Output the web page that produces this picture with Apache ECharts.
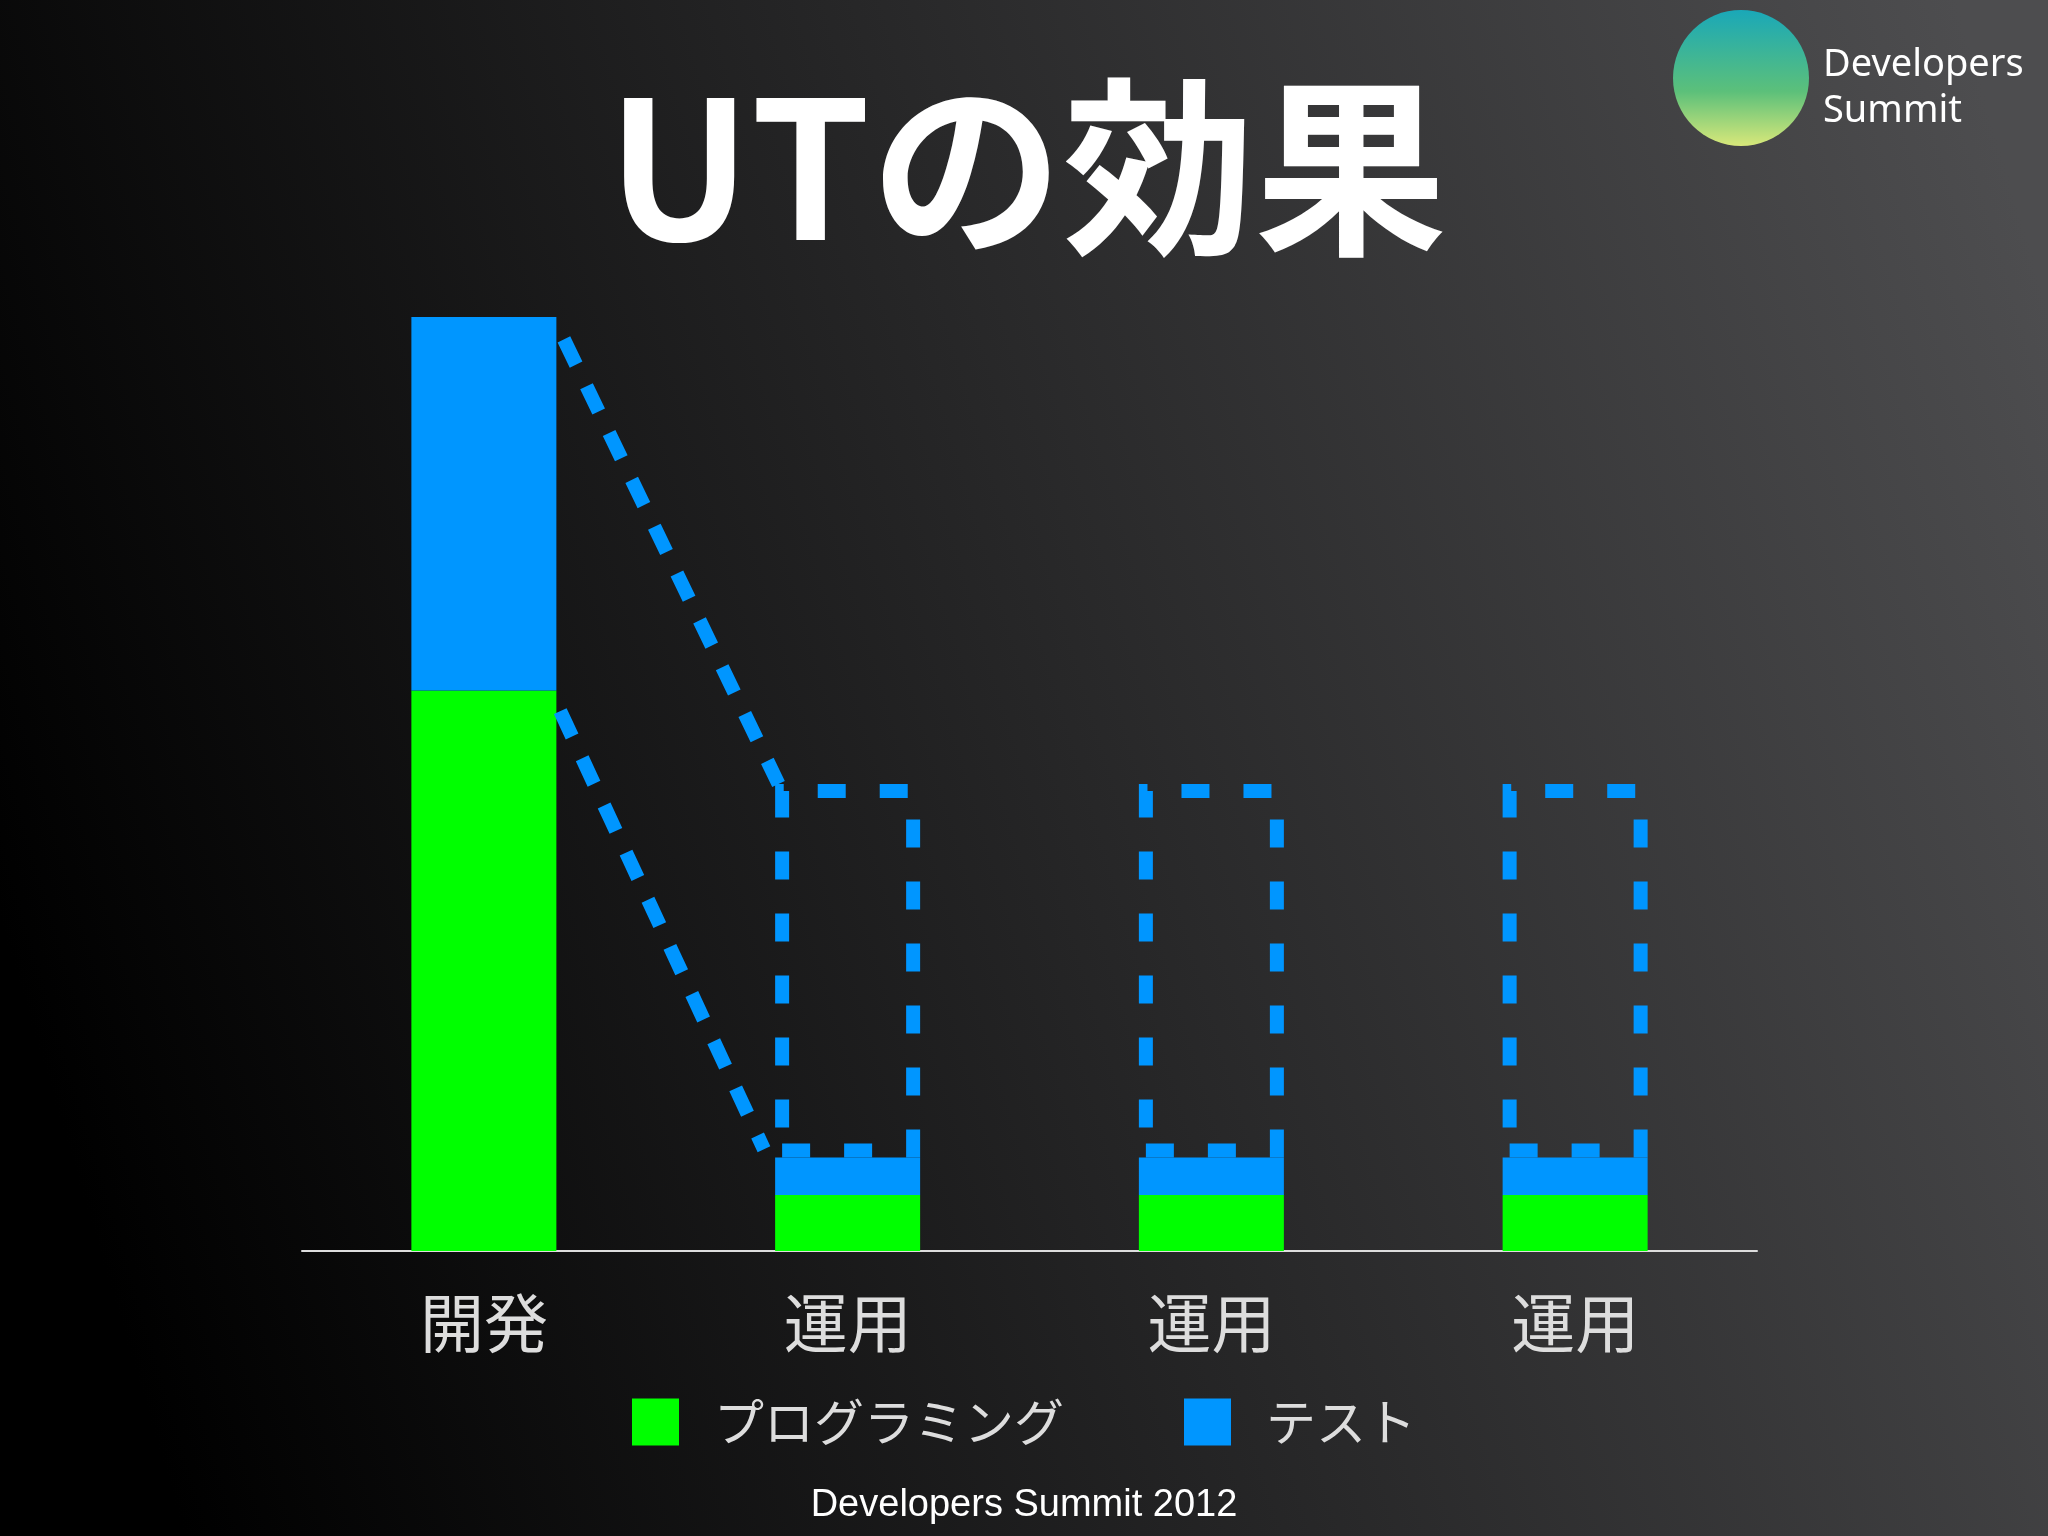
<!DOCTYPE html>
<html>
<head>
<meta charset="utf-8">
<script src="https://cdn.jsdelivr.net/npm/echarts@6/dist/echarts.min.js"></script>
<style>html,body{margin:0;padding:0;}#main{width:2048px;height:1536px;}</style>
</head>
<body>
<div id="main"></div>
<script>
// データ
var categories = ['開発', '運用', '運用', '運用'];
var programming = [60, 6, 6, 6];
var test = [40, 4, 4, 4];
var dashedBox = ['-', 40, 40, 40];
// 点線（x: カテゴリ位置, y: 値）
var guideTop = [[0.22, 97.6], [0.81, 50]];
var guideBottom = [[0.21, 57.8], [0.77, 10.9]];

var myChart = echarts.init(document.getElementById('main'));
var option = {
    backgroundColor: {
        type: 'linear', x: 0, y: 0.6, x2: 1, y2: 0.2,
        colorStops: [{offset: 0, color: '#000000'}, {offset: 1, color: '#4d4d4f'}]
    },
    title: {
        text: 'UTの効果',
        left: 1022, top: 66, textAlign: 'center',
        textStyle: {color: '#fff', fontSize: 192, fontWeight: 'bold', fontFamily: 'Noto Sans CJK JP'}
    },
    graphic: [
        {type: 'circle', shape: {cx: 1741, cy: 78, r: 68},
         style: {fill: {type: 'linear', x: 0, y: 0, x2: 0, y2: 1,
            colorStops: [{offset: 0, color: '#1aa8b8'}, {offset: 0.6, color: '#5cc07a'}, {offset: 1, color: '#d8e87a'}]}}},
        {type: 'text', left: 1823, top: 42,
         style: {text: 'Developers\nSummit', fill: '#fff', fontSize: 38, lineHeight: 46, fontFamily: 'Noto Sans'}},
        {type: 'text', left: 'center', top: 1487,
         style: {text: 'Developers Summit 2012', fill: '#fff', fontSize: 38, fontFamily: 'Liberation Sans'}}
    ],
    legend: {
        data: ['プログラミング', 'テスト'],
        top: 1392, left: 'center',
        itemWidth: 47, itemHeight: 47, itemGap: 120,
        icon: 'rect',
        textStyle: {color: '#ddd', fontSize: 50, fontFamily: 'Noto Sans CJK JP', padding: [0, 0, 0, 30]}
    },
    grid: {left: 302, right: 291, top: 317, bottom: 285},
    xAxis: [{
        type: 'category',
        data: categories,
        axisTick: {show: false},
        axisLine: {lineStyle: {color: '#ddd', width: 2}},
        axisLabel: {color: '#ddd', fontSize: 64, margin: 40, fontFamily: 'Noto Sans CJK JP'}
    }, {
        type: 'value', min: -0.5, max: 3.5, show: false
    }],
    yAxis: {type: 'value', min: 0, max: 100, show: false},
    series: [{
        name: 'プログラミング', type: 'bar', stack: 'a', barWidth: 145,
        itemStyle: {color: '#00ff00'}, data: programming
    }, {
        name: 'テスト', type: 'bar', stack: 'a',
        itemStyle: {color: '#0096ff'}, data: test
    }, {
        name: 'dash', type: 'bar', stack: 'a', silent: true,
        itemStyle: {color: 'transparent', borderColor: '#0096ff', borderWidth: 14, borderType: [28, 34]},
        data: dashedBox
    }, {
        name: 'guide1', type: 'line', xAxisIndex: 1, symbol: 'none', silent: true,
        lineStyle: {color: '#0096ff', width: 14, type: [28, 24]}, data: guideTop
    }, {
        name: 'guide2', type: 'line', xAxisIndex: 1, symbol: 'none', silent: true,
        lineStyle: {color: '#0096ff', width: 14, type: [28, 24]}, data: guideBottom
    }]
};
myChart.setOption(option);
</script>
</body>
</html>
